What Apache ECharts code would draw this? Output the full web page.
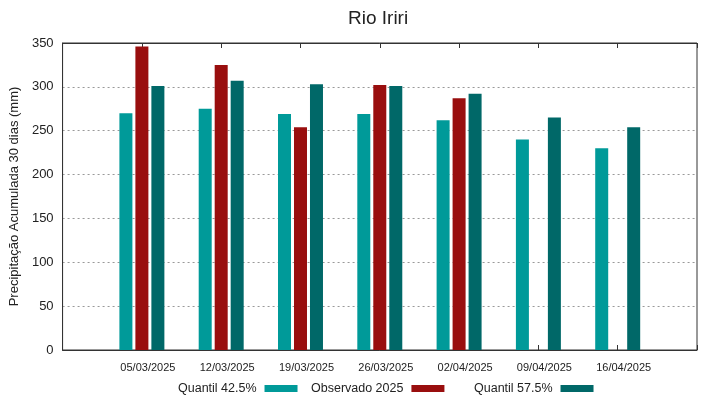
<!DOCTYPE html>
<html><head><meta charset="utf-8">
<script src="https://cdn.jsdelivr.net/npm/echarts@6/dist/echarts.min.js"></script>
<style>html,body{margin:0;padding:0;background:#fff}#c{width:719px;height:399px}</style>
</head><body><div id="c"></div>
<script>
const categories = ['05/03/2025','12/03/2025','19/03/2025','26/03/2025','02/04/2025','09/04/2025','16/04/2025'];
const q425 = [270, 275, 269, 269, 262, 240, 230];
const obs2025 = [346, 325, 254, 302, 287, null, null];
const q575 = [301, 307, 303, 301, 292, 265, 254];
const yTicks = [0, 50, 100, 150, 200, 250, 300, 350];

const cats = [''].concat(categories, ['']);
const pad = a => [null].concat(a, [null]);
const font = 'Liberation Sans, Arial, sans-serif';
const chart = echarts.init(document.getElementById('c'), null, {renderer: 'canvas'});
const mkLegend = (name, left) => ({
  data: [name], left: left, top: 377, align: 'right', icon: 'rect',
  itemWidth: 33, itemHeight: 7, itemGap: 0,
  textStyle: {fontFamily: font, fontSize: 12.5, color: '#222', padding: [0, 3, 0, 0]}
});
chart.setOption({
  animation: false,
  textStyle: {fontFamily: font},
  title: {text: 'Rio Iriri', left: 343, top: 4, textStyle: {fontFamily: font, fontSize: 19, fontWeight: 'normal', color: '#222'}},
  legend: [mkLegend('Quantil 42.5%', 173), mkLegend('Observado 2025', 306), mkLegend('Quantil 57.5%', 469)],
  grid: {left: 58, right: 22, top: 43, bottom: 49, show: true, borderColor: '#333', borderWidth: 1, containLabel: false},
  xAxis: [{
    type: 'category', data: cats, boundaryGap: false,
    axisLine: {show: true, lineStyle: {color: '#333'}},
    axisTick: {show: true, inside: true, length: 5, lineStyle: {color: '#333'}},
    axisLabel: {fontSize: 11, color: '#222', margin: 12, interval: 0, padding: [0, 0, 0, 12]},
    splitLine: {show: false}
  }, {
    type: 'category', data: cats, boundaryGap: false, position: 'top',
    axisLine: {show: true, lineStyle: {color: '#333'}},
    axisTick: {show: true, inside: true, length: 5, lineStyle: {color: '#333'}},
    axisLabel: {show: false}, splitLine: {show: false}
  }],
  yAxis: {
    type: 'value', min: yTicks[0], max: yTicks[yTicks.length - 1], interval: 50,
    name: 'Precipitação Acumulada 30 dias (mm)', nameLocation: 'middle', nameGap: 35,
    nameTextStyle: {fontSize: 13, color: '#222'},
    axisLine: {show: true, lineStyle: {color: '#333'}},
    axisTick: {show: false},
    axisLabel: {fontSize: 13, color: '#222', margin: 9},
    splitLine: {show: true, lineStyle: {color: '#999', type: [2, 3], width: 1}}
  },
  series: [
    {name: 'Quantil 42.5%', type: 'bar', data: pad(q425), barWidth: 13, barGap: '23%', itemStyle: {color: '#009a99'}},
    {name: 'Observado 2025', type: 'bar', data: pad(obs2025), barWidth: 13, barGap: '23%', itemStyle: {color: '#990e0e'}},
    {name: 'Quantil 57.5%', type: 'bar', data: pad(q575), barWidth: 13, barGap: '23%', itemStyle: {color: '#006868'}}
  ]
});
</script></body></html>
